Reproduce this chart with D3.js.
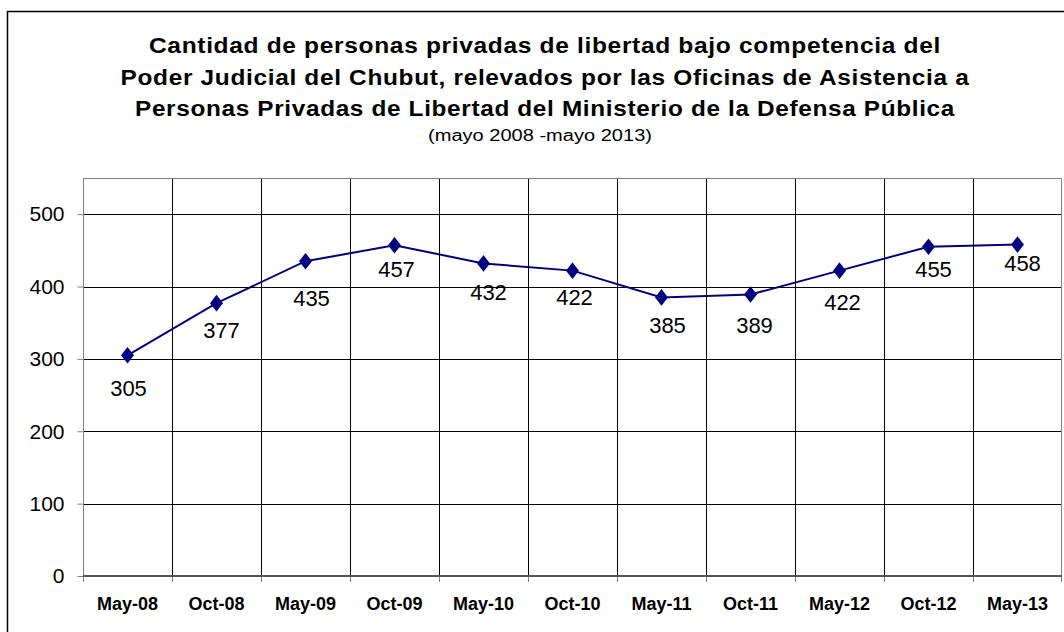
<!DOCTYPE html>
<html>
<head>
<meta charset="utf-8">
<script src="https://cdn.jsdelivr.net/npm/d3@7"></script>
<style>
  body { margin: 0; background: #fff; }
  svg { display: block; font-family: "Liberation Sans", Arial, sans-serif; }
</style>
</head>
<body>
<svg id="chart" width="1064" height="632"></svg>
<script>
(function () {
    "use strict";

    // data
    var categories = ["May-08", "Oct-08", "May-09", "Oct-09", "May-10", "Oct-10",
                      "May-11", "Oct-11", "May-12", "Oct-12", "May-13"];
    var values = [305, 377, 435, 457, 432, 422, 385, 389, 422, 455, 458];
    var yTicks = [0, 100, 200, 300, 400, 500];

    var titleLines = [
        "Cantidad de personas privadas de libertad bajo competencia del",
        "Poder Judicial del Chubut, relevados por las Oficinas de Asistencia a",
        "Personas Privadas de Libertad del Ministerio de la Defensa Pública"
    ];
    var subtitle = "(mayo 2008 -mayo 2013)";

    // label placement (hand dragged in the original), offsets from each point
    var labelDx = [1, 5, 6, 2, 5, 2, 6, 4, 3, 5, 5];
    var labelDy = [33, 27, 37, 24, 29, 27, 28, 31, 32, 22, 19];

    var left = 83, right = 1062, top = 178, bottom = 576;

    var svg = d3.select("#chart");

    // outer chart border (runs off the right and bottom edges)
    svg.append("rect")
        .attr("x", 7.5).attr("y", 11.5)
        .attr("width", 1070).attr("height", 640)
        .attr("fill", "none")
        .attr("stroke", "#000")
        .attr("stroke-width", 1.5);

    // title
    var titleWidths = [792, 849, 820];
    var titleBase = [53, 85, 116];
    svg.selectAll("text.title")
        .data(titleLines)
        .enter()
        .append("text")
        .attr("class", "title")
        .attr("x", 545)
        .attr("y", function (d, i) { return titleBase[i]; })
        .attr("text-anchor", "middle")
        .attr("font-size", "22px")
        .attr("font-weight", "bold")
        .attr("letter-spacing", "0.6px")
        .attr("textLength", function (d, i) { return titleWidths[i]; })
        .attr("lengthAdjust", "spacingAndGlyphs")
        .text(function (d) { return d; });

    svg.append("text")
        .attr("x", 540)
        .attr("y", 141)
        .attr("text-anchor", "middle")
        .attr("font-size", "16px")
        .attr("textLength", 224)
        .attr("lengthAdjust", "spacingAndGlyphs")
        .text(subtitle);

    var x = d3.scaleBand()
        .domain(categories)
        .range([left, right])
        .padding(0);

    var y = d3.scaleLinear()
        .domain([0, 550])
        .range([bottom, top]);

    var cx = function (d) { return x(d) + x.bandwidth() / 2; };

    // horizontal gridlines
    svg.append("g")
        .selectAll("line")
        .data(yTicks.filter(function (t) { return t > 0; }))
        .enter()
        .append("line")
        .attr("x1", left).attr("x2", right)
        .attr("y1", function (d) { return Math.round(y(d)) + 0.5; })
        .attr("y2", function (d) { return Math.round(y(d)) + 0.5; })
        .attr("stroke", "#000")
        .attr("stroke-width", 1);

    // vertical gridlines between categories
    var inner = categories.slice(1);
    svg.append("g")
        .selectAll("line")
        .data(inner)
        .enter()
        .append("line")
        .attr("x1", function (d) { return Math.round(x(d)) + 0.5; })
        .attr("x2", function (d) { return Math.round(x(d)) + 0.5; })
        .attr("y1", top).attr("y2", bottom)
        .attr("stroke", "#000")
        .attr("stroke-width", 1);

    // plot frame (top / right) in grey
    svg.append("path")
        .attr("d", "M" + (left + 0.5) + "," + (top + 0.5) + "H" + (right - 0.5) + "V" + bottom)
        .attr("fill", "none")
        .attr("stroke", "#808080")
        .attr("stroke-width", 1);

    // y axis
    var yAxis = svg.append("g")
        .attr("transform", "translate(" + (left + 0.5) + ",0)")
        .call(d3.axisLeft(y).tickValues(yTicks).tickSize(6).tickPadding(13).tickSizeOuter(0));
    yAxis.select(".domain").attr("stroke", "#808080").attr("d", "M0," + top + "V" + bottom);
    yAxis.selectAll(".tick line").attr("stroke", "#808080");
    yAxis.selectAll(".tick text")
        .attr("font-family", "Liberation Sans, Arial, sans-serif")
        .attr("font-size", "21px")
        .attr("fill", "#000");

    // x axis: tick marks on band edges, labels in band centres
    var edges = categories.map(function (c) { return x(c); }).concat([right - 1]);
    svg.append("g")
        .selectAll("line")
        .data(edges)
        .enter()
        .append("line")
        .attr("x1", function (d) { return Math.round(d) + 0.5; })
        .attr("x2", function (d) { return Math.round(d) + 0.5; })
        .attr("y1", bottom).attr("y2", bottom + 6)
        .attr("stroke", "#808080")
        .attr("stroke-width", 1);

    svg.append("line")
        .attr("x1", left).attr("x2", right)
        .attr("y1", bottom).attr("y2", bottom)
        .attr("stroke", "#555")
        .attr("stroke-width", 2);

    svg.append("g")
        .selectAll("text")
        .data(categories)
        .enter()
        .append("text")
        .attr("x", cx)
        .attr("y", 610)
        .attr("text-anchor", "middle")
        .attr("font-size", "18px")
        .attr("font-weight", "bold")
        .text(function (d) { return d; });

    // series line
    var line = d3.line()
        .x(function (d, i) { return cx(categories[i]); })
        .y(function (d) { return y(d); });

    svg.append("path")
        .datum(values)
        .attr("d", line)
        .attr("fill", "none")
        .attr("stroke", "#000080")
        .attr("stroke-width", 2);

    // diamond markers
    var diamond = d3.symbol().type(d3.symbolDiamond).size(80);
    svg.append("g")
        .selectAll("path")
        .data(values)
        .enter()
        .append("path")
        .attr("d", diamond)
        .attr("transform", function (d, i) {
            return "translate(" + cx(categories[i]) + "," + y(d) + ") scale(1.35,1)";
        })
        .attr("fill", "#000080");

    // data labels
    svg.append("g")
        .selectAll("text")
        .data(values)
        .enter()
        .append("text")
        .attr("x", function (d, i) { return cx(categories[i]) + labelDx[i]; })
        .attr("y", function (d, i) { return y(d) + labelDy[i] + 7.8; })
        .attr("text-anchor", "middle")
        .attr("font-size", "22px")
        .text(function (d) { return d; });
})();
</script>
</body>
</html>
